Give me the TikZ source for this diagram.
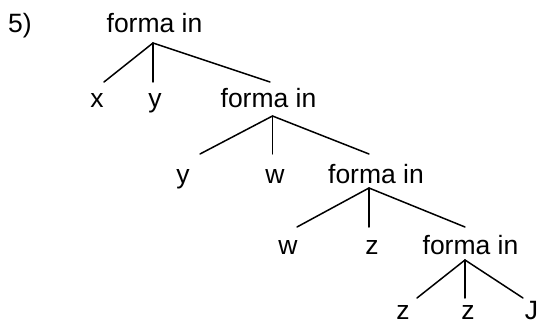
\documentclass[tikz,border=0pt]{standalone}
\usepackage{fontspec}
\setmainfont{Liberation Sans}
\begin{document}
\begin{tikzpicture}[x=1pt,y=-1pt,
  lbl/.style={anchor=base,inner sep=0pt,font=\fontsize{26.5}{30}\selectfont},
  edge/.style={line width=1.5pt,line cap=round}]
\useasboundingbox (0,0) rectangle (540,323);

% labels
\node[lbl] (num) at (20,33) {5)};
\node[lbl] (f0) at (154.5,33) {forma in};
\node[lbl] (x1) at (97,108) {x};
\node[lbl] (y1) at (155,108) {y};
\node[lbl] (f1) at (268.5,108) {forma in};
\node[lbl] (y2) at (183,183) {y};
\node[lbl] (w2) at (275,183) {w};
\node[lbl] (f2) at (376,183) {forma in};
\node[lbl] (w3) at (288,254) {w};
\node[lbl] (z3) at (372,254) {z};
\node[lbl] (f3) at (470.5,254) {forma in};
\node[lbl] (z4a) at (403,319) {z};
\node[lbl] (z4b) at (468,319) {z};
\node[lbl] (j4) at (531.5,319) {J};

% branching points below each "forma in"
\coordinate (r0) at (153,43);
\coordinate (r1) at (272.5,116);
\coordinate (r2) at (369,188);
\coordinate (r3) at (465,260);

% upper ends of the branches
\coordinate (tx1) at (104,82);  \coordinate (ty1) at (153,82);  \coordinate (tf1) at (270,82);
\coordinate (ty2) at (200,154); \coordinate (tw2) at (272.5,154); \coordinate (tf2) at (369,154);
\coordinate (tw3) at (297,227); \coordinate (tz3) at (369,227); \coordinate (tf3) at (465,227);
\coordinate (tz4a) at (417,298); \coordinate (tz4b) at (465,298); \coordinate (tj4) at (523,298);

% branches
\draw[edge] (tx1) -- (r0) -- (tf1);  \draw[edge] (r0) -- (ty1);
\draw[edge] (ty2) -- (r1) -- (tf2);  \draw[edge] (r1) -- (tw2);
\draw[edge] (tw3) -- (r2) -- (tf3);  \draw[edge] (r2) -- (tz3);
\draw[edge] (tz4a) -- (r3) -- (tj4); \draw[edge] (r3) -- (tz4b);
\end{tikzpicture}
\end{document}
